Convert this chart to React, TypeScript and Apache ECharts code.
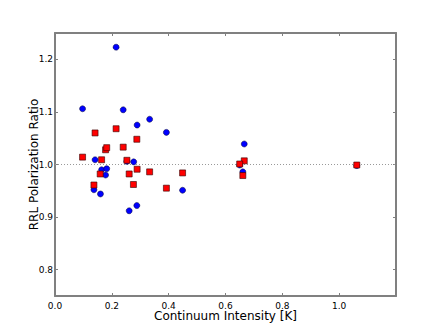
import React, { useEffect, useRef } from "react";
import * as echarts from "echarts";

const blueX = [0.097, 0.215, 0.240, 0.289, 0.333, 0.392, 0.141, 0.253, 0.277, 0.164, 0.182, 0.178, 0.137, 0.160, 0.449, 0.288, 0.261, 0.666, 0.661, 0.650, 1.062];
const blueY = [1.106, 1.223, 1.104, 1.075, 1.086, 1.061, 1.009, 1.006, 1.005, 0.990, 0.992, 0.980, 0.952, 0.944, 0.951, 0.922, 0.912, 1.039, 0.986, 0.999, 0.998];
const redX = [0.141, 0.215, 0.178, 0.182, 0.288, 0.240, 0.097, 0.164, 0.253, 0.159, 0.261, 0.289, 0.333, 0.449, 0.137, 0.276, 0.392, 0.666, 0.650, 0.661, 1.062];
const redY = [1.060, 1.068, 1.028, 1.032, 1.048, 1.033, 1.014, 1.009, 1.008, 0.982, 0.982, 0.991, 0.986, 0.984, 0.961, 0.962, 0.955, 1.007, 1.001, 0.979, 0.999];
const xTicks = [0, 0.2, 0.4, 0.6, 0.8, 1.0];
const yTicks = [0.8, 0.9, 1.0, 1.1, 1.2];
const refLevel = 1.0;
const xRange = [0, 1.2];
const yRange = [0.75, 1.25];

const FONT = "DejaVu Sans";
const FRAME = "#808080";

export default function App() {
  const ref = useRef<HTMLDivElement>(null);
  useEffect(() => {
    if (!ref.current) return;
    const chart = echarts.init(ref.current, undefined, { renderer: "svg" });
    const xAxisBase = (pos: "bottom" | "top", showLabel: boolean) => ({
      type: "value",
      position: pos,
      min: xRange[0],
      max: xRange[1],
      splitLine: { show: false },
      axisLine: { show: true, onZero: false, lineStyle: { color: FRAME, width: 2 } },
      axisTick: { show: true, inside: true, length: 3, customValues: xTicks, lineStyle: { color: FRAME, width: 1 } },
      axisLabel: {
        show: showLabel,
        customValues: xTicks,
        formatter: (v: number) => v.toFixed(1),
        color: "#000",
        fontFamily: FONT,
        fontSize: 9,
        margin: 5,
      },
    });
    const yAxisBase = (pos: "left" | "right", showLabel: boolean) => ({
      type: "value",
      position: pos,
      min: yRange[0],
      max: yRange[1],
      splitLine: { show: false },
      axisLine: { show: true, onZero: false, lineStyle: { color: FRAME, width: 2 } },
      axisTick: { show: true, inside: true, length: 3, customValues: yTicks, lineStyle: { color: FRAME, width: 1 } },
      axisLabel: {
        show: showLabel,
        customValues: yTicks,
        formatter: (v: number) => v.toFixed(1),
        color: "#000",
        fontFamily: FONT,
        fontSize: 9,
        margin: 2,
      },
    });
    const bx: any = xAxisBase("bottom", true);
    bx.name = "Continuum Intensity [K]";
    bx.nameLocation = "middle";
    bx.nameGap = 14;
    bx.nameMoveOverlap = false;
    bx.nameTextStyle = { fontFamily: FONT, fontSize: 12, color: "#000", verticalAlign: "top" };
    const ly: any = yAxisBase("left", true);
    ly.name = "RRL Polarization Ratio";
    ly.nameLocation = "middle";
    ly.nameGap = 15;
    ly.nameMoveOverlap = false;
    ly.nameTextStyle = { fontFamily: FONT, fontSize: 12, color: "#000", verticalAlign: "bottom" };

    chart.setOption({
      animation: false,
      backgroundColor: "#fff",
      grid: { left: 55, right: 44, top: 33, bottom: 34, containLabel: false },
      xAxis: [bx, xAxisBase("top", false)],
      yAxis: [ly, yAxisBase("right", false)],
      series: [
        {
          type: "line",
          data: [[xRange[0], refLevel], [xRange[1], refLevel]],
          symbol: "none",
          silent: true,
          z: 1,
          lineStyle: { color: "#999", width: 1, type: [1, 2] },
        },
        {
          type: "scatter",
          data: blueX.map((x, i) => [x, blueY[i]]),
          symbol: "circle",
          symbolSize: 6,
          z: 2,
          itemStyle: { color: "#0000ff", borderColor: "#000033", borderWidth: 0.5, opacity: 1 },
        },
        {
          type: "scatter",
          data: redX.map((x, i) => [x, redY[i]]),
          symbol: "rect",
          symbolSize: 6,
          z: 3,
          itemStyle: { color: "#ff0000", borderColor: "#330000", borderWidth: 0.6, opacity: 1 },
        },
      ],
    });
    return () => chart.dispose();
  }, []);
  return <div ref={ref} style={{ position: "absolute", left: 0, top: 0, width: 440, height: 330 }} />;
}
